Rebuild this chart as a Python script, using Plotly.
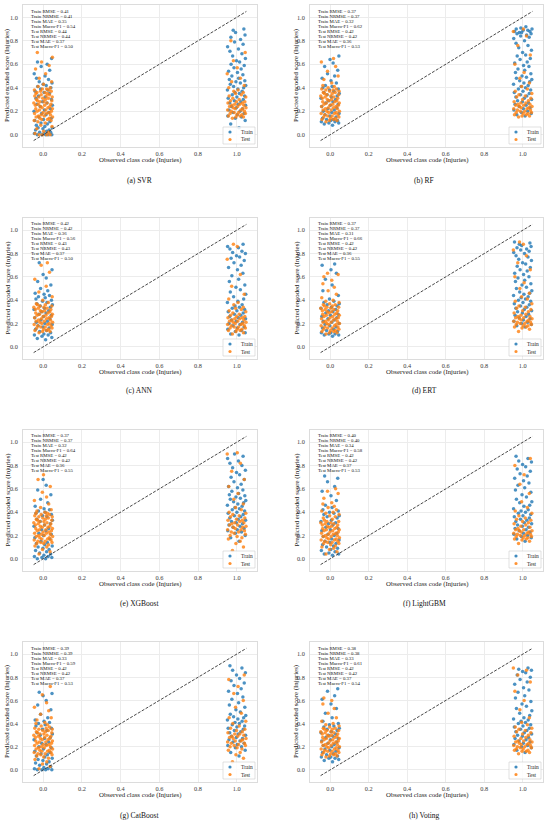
import plotly.graph_objects as go

# %% values
MODELS = ["SVR", "RF", "ANN", "ERT", "XGBoost", "LightGBM", "CatBoost", "Voting"]
LETTERS = ["a", "b", "c", "d", "e", "f", "g", "h"]

TRAIN_RMSE = [0.41, 0.37, 0.42, 0.37, 0.37, 0.40, 0.39, 0.38]
TRAIN_NRMSE = [0.41, 0.37, 0.42, 0.37, 0.37, 0.40, 0.39, 0.38]
TRAIN_MAE = [0.35, 0.32, 0.36, 0.31, 0.32, 0.34, 0.33, 0.33]
TRAIN_F1 = [0.54, 0.62, 0.56, 0.66, 0.64, 0.58, 0.59, 0.61]
TEST_RMSE = [0.44, 0.42, 0.43, 0.42, 0.42, 0.42, 0.42, 0.42]
TEST_NRMSE = [0.44, 0.42, 0.43, 0.42, 0.42, 0.42, 0.42, 0.42]
TEST_MAE = [0.37, 0.36, 0.37, 0.36, 0.36, 0.37, 0.37, 0.37]
TEST_F1 = [0.50, 0.53, 0.50, 0.55, 0.55, 0.53, 0.53, 0.54]

CLASS_CODES = [0, 1]
DIAG = [-0.05, 1.05]
TICKS = [0.0, 0.2, 0.4, 0.6, 0.8, 1.0]

# horizontal jitter applied around each class code
JIT_TRAIN = [
    0.012, -0.031, 0.044, -0.007, 0.025, -0.046, 0.003, 0.038, -0.019, 0.017,
    -0.040, 0.030, -0.002, -0.027, 0.046, 0.008, -0.036, 0.021, -0.012, 0.034,
    -0.044, 0.001, 0.041, -0.023, 0.014, -0.009, 0.028, -0.048, 0.006, 0.036,
    -0.016, 0.047, -0.033, 0.019, -0.004, 0.042, -0.038, 0.010, -0.025, 0.032,
    0.004, -0.042, 0.023, -0.014, 0.039, -0.029, 0.015, -0.001, 0.045, -0.021,
    0.027, -0.035, 0.009, -0.047, 0.033, -0.011, 0.020, -0.030, 0.043, -0.006,
    -0.018, 0.037, -0.043, 0.002, 0.026, -0.034, 0.048, -0.010, 0.016, -0.039,
    0.031, -0.003, -0.024, 0.040, 0.007, -0.045, 0.022, -0.015, 0.035, -0.028,
]
JIT_TEST = [
    -0.022, 0.035, -0.004, 0.018, -0.043, 0.027, 0.002, -0.034, 0.045, -0.013,
    0.010, -0.028, 0.040, -0.047, 0.022, -0.008, 0.031, -0.018, 0.048, -0.037,
    0.005, -0.025, 0.037, -0.010, 0.016, -0.045, 0.029, -0.001, 0.042, -0.032,
    0.013, -0.020, 0.047, -0.039, 0.024, -0.006, 0.034, -0.015, 0.007, -0.041,
    0.039, -0.026, 0.019, -0.049, 0.003, -0.017, 0.044, -0.030, 0.011, -0.036,
    0.026, -0.003, 0.046, -0.023, 0.015, -0.044, 0.032, -0.011, 0.021, -0.038,
    0.008, -0.033, 0.041, -0.014, 0.028, -0.046, 0.017, -0.005, 0.036, -0.027,
    0.001, 0.043, -0.021, 0.012, -0.040, 0.030, -0.009, 0.047, -0.031, 0.020,
]

# predicted scores, class 0 and class 1, train and test
SVR_TRAIN_0 = [0.00, 0.00, 0.00, 0.00, 0.00, 0.01, 0.01, 0.02, 0.02, 0.03, 0.04, 0.04, 0.05, 0.06, 0.06, 0.07,
               0.08, 0.09, 0.10, 0.11, 0.12, 0.13, 0.14, 0.15, 0.17, 0.18, 0.19, 0.20, 0.21, 0.22, 0.24, 0.25,
               0.26, 0.27, 0.28, 0.30, 0.31, 0.32, 0.33, 0.35, 0.36, 0.37, 0.38, 0.39, 0.40, 0.41, 0.42, 0.43,
               0.44, 0.45, 0.47, 0.48, 0.50, 0.52, 0.55, 0.58, 0.60, 0.62, 0.65]
SVR_TEST_0 = [0.00, 0.00, 0.00, 0.00, 0.01, 0.02, 0.03, 0.05, 0.07, 0.08, 0.10, 0.11, 0.12, 0.12, 0.13, 0.13,
              0.14, 0.14, 0.15, 0.15, 0.16, 0.16, 0.17, 0.17, 0.18, 0.18, 0.19, 0.19, 0.20, 0.20, 0.21, 0.21,
              0.22, 0.22, 0.23, 0.23, 0.24, 0.24, 0.25, 0.25, 0.26, 0.26, 0.27, 0.27, 0.28, 0.28, 0.29, 0.29,
              0.30, 0.30, 0.31, 0.31, 0.32, 0.32, 0.33, 0.33, 0.34, 0.34, 0.35, 0.35, 0.36, 0.36, 0.37, 0.37,
              0.38, 0.38, 0.39, 0.39, 0.40, 0.41, 0.43, 0.45, 0.48, 0.52, 0.56, 0.59, 0.62, 0.66, 0.70]
SVR_TRAIN_1 = [0.06, 0.09, 0.12, 0.14, 0.15, 0.16, 0.17, 0.18, 0.19, 0.20, 0.21, 0.22, 0.23, 0.24, 0.25, 0.26,
               0.27, 0.28, 0.29, 0.30, 0.31, 0.32, 0.33, 0.34, 0.35, 0.36, 0.37, 0.38, 0.39, 0.40, 0.41, 0.42,
               0.43, 0.44, 0.45, 0.46, 0.47, 0.48, 0.50, 0.51, 0.53, 0.54, 0.56, 0.57, 0.59, 0.60, 0.62, 0.63,
               0.65, 0.67, 0.69, 0.71, 0.73, 0.75, 0.77, 0.79, 0.81, 0.83, 0.85, 0.87, 0.89, 0.90]
SVR_TEST_1 = [0.14, 0.15, 0.15, 0.16, 0.16, 0.17, 0.17, 0.18, 0.18, 0.19, 0.19, 0.20, 0.20, 0.21, 0.21, 0.22,
              0.22, 0.23, 0.23, 0.24, 0.24, 0.25, 0.25, 0.26, 0.26, 0.27, 0.27, 0.28, 0.28, 0.29, 0.30, 0.31,
              0.32, 0.33, 0.34, 0.35, 0.36, 0.37, 0.38, 0.40, 0.42, 0.45, 0.48, 0.52, 0.57, 0.63, 0.70, 0.80]

RF_TRAIN_0 = [0.08, 0.09, 0.10, 0.10, 0.11, 0.11, 0.12, 0.12, 0.13, 0.13, 0.14, 0.15, 0.16, 0.17, 0.18, 0.19,
              0.20, 0.21, 0.22, 0.23, 0.24, 0.25, 0.26, 0.27, 0.28, 0.29, 0.30, 0.31, 0.32, 0.33, 0.34, 0.35,
              0.36, 0.37, 0.38, 0.39, 0.40, 0.41, 0.42, 0.44, 0.46, 0.48, 0.50, 0.52, 0.55, 0.58, 0.61, 0.64,
              0.67]
RF_TEST_0 = [0.11, 0.12, 0.12, 0.13, 0.13, 0.14, 0.14, 0.15, 0.15, 0.16, 0.16, 0.17, 0.17, 0.18, 0.18, 0.19,
             0.19, 0.20, 0.20, 0.21, 0.21, 0.22, 0.22, 0.23, 0.23, 0.24, 0.24, 0.25, 0.25, 0.26, 0.26, 0.27,
             0.27, 0.28, 0.28, 0.29, 0.29, 0.30, 0.30, 0.31, 0.31, 0.32, 0.32, 0.33, 0.33, 0.34, 0.34, 0.35,
             0.35, 0.36, 0.36, 0.37, 0.37, 0.38, 0.38, 0.39, 0.39, 0.40, 0.41, 0.42, 0.44, 0.47, 0.50, 0.54,
             0.58, 0.62, 0.65]
RF_TRAIN_1 = [0.16, 0.17, 0.18, 0.19, 0.20, 0.21, 0.22, 0.23, 0.24, 0.25, 0.26, 0.27, 0.28, 0.29, 0.30, 0.31,
              0.32, 0.33, 0.34, 0.35, 0.36, 0.37, 0.38, 0.39, 0.40, 0.41, 0.42, 0.43, 0.44, 0.45, 0.46, 0.47,
              0.48, 0.49, 0.50, 0.52, 0.53, 0.55, 0.56, 0.58, 0.59, 0.61, 0.62, 0.64, 0.65, 0.67, 0.68, 0.70,
              0.72, 0.74, 0.76, 0.78, 0.80, 0.82, 0.83, 0.84, 0.85, 0.86, 0.86, 0.87, 0.87, 0.88, 0.88, 0.89,
              0.89, 0.90, 0.90, 0.91, 0.92]
RF_TEST_1 = [0.15, 0.16, 0.16, 0.17, 0.17, 0.18, 0.18, 0.19, 0.19, 0.20, 0.20, 0.21, 0.21, 0.22, 0.22, 0.23,
             0.23, 0.24, 0.24, 0.25, 0.25, 0.26, 0.26, 0.27, 0.27, 0.28, 0.29, 0.30, 0.31, 0.32, 0.33, 0.34,
             0.35, 0.37, 0.39, 0.41, 0.44, 0.48, 0.53, 0.60, 0.68, 0.76, 0.84, 0.88, 0.90]

ANN_TRAIN_0 = [0.06, 0.07, 0.08, 0.09, 0.10, 0.10, 0.11, 0.12, 0.13, 0.14, 0.15, 0.16, 0.17, 0.18, 0.19, 0.20,
               0.21, 0.22, 0.23, 0.24, 0.25, 0.26, 0.27, 0.28, 0.29, 0.30, 0.31, 0.32, 0.33, 0.34, 0.35, 0.36,
               0.37, 0.38, 0.39, 0.40, 0.41, 0.42, 0.43, 0.44, 0.45, 0.46, 0.48, 0.50, 0.53, 0.56, 0.59, 0.62,
               0.66, 0.72]
ANN_TEST_0 = [0.12, 0.13, 0.13, 0.14, 0.14, 0.15, 0.15, 0.16, 0.16, 0.17, 0.17, 0.18, 0.18, 0.19, 0.19, 0.20,
              0.20, 0.21, 0.21, 0.22, 0.22, 0.23, 0.23, 0.24, 0.24, 0.25, 0.25, 0.26, 0.26, 0.27, 0.27, 0.28,
              0.28, 0.29, 0.29, 0.30, 0.30, 0.31, 0.31, 0.32, 0.32, 0.33, 0.33, 0.34, 0.34, 0.35, 0.35, 0.36,
              0.36, 0.37, 0.38, 0.40, 0.43, 0.47, 0.52, 0.58, 0.64, 0.70, 0.72]
ANN_TRAIN_1 = [0.10, 0.11, 0.12, 0.13, 0.14, 0.15, 0.16, 0.17, 0.18, 0.19, 0.20, 0.21, 0.22, 0.23, 0.24, 0.25,
               0.26, 0.27, 0.28, 0.29, 0.30, 0.31, 0.32, 0.33, 0.34, 0.35, 0.36, 0.38, 0.39, 0.41, 0.43, 0.45,
               0.47, 0.49, 0.51, 0.53, 0.56, 0.58, 0.61, 0.63, 0.66, 0.68, 0.70, 0.72, 0.74, 0.76, 0.77, 0.78,
               0.80, 0.81, 0.82, 0.84, 0.85, 0.86, 0.88]
ANN_TEST_1 = [0.11, 0.12, 0.13, 0.14, 0.14, 0.15, 0.15, 0.16, 0.16, 0.17, 0.17, 0.18, 0.18, 0.19, 0.19, 0.20,
              0.20, 0.21, 0.21, 0.22, 0.22, 0.23, 0.23, 0.24, 0.24, 0.25, 0.25, 0.26, 0.26, 0.27, 0.28, 0.29,
              0.30, 0.31, 0.32, 0.33, 0.34, 0.36, 0.38, 0.41, 0.45, 0.52, 0.62, 0.75, 0.86, 0.88]

ERT_TRAIN_0 = [0.09, 0.10, 0.10, 0.11, 0.11, 0.12, 0.12, 0.13, 0.14, 0.15, 0.16, 0.17, 0.18, 0.19, 0.20, 0.21,
               0.22, 0.23, 0.24, 0.25, 0.26, 0.27, 0.28, 0.29, 0.30, 0.31, 0.32, 0.33, 0.34, 0.35, 0.36, 0.37,
               0.38, 0.39, 0.41, 0.44, 0.48, 0.53, 0.58, 0.63, 0.66, 0.70, 0.71]
ERT_TEST_0 = [0.11, 0.12, 0.12, 0.13, 0.13, 0.14, 0.14, 0.15, 0.15, 0.16, 0.16, 0.17, 0.17, 0.18, 0.18, 0.19,
              0.19, 0.20, 0.20, 0.21, 0.21, 0.22, 0.22, 0.23, 0.23, 0.24, 0.24, 0.25, 0.25, 0.26, 0.26, 0.27,
              0.27, 0.28, 0.28, 0.29, 0.29, 0.30, 0.30, 0.31, 0.31, 0.32, 0.32, 0.33, 0.33, 0.34, 0.34, 0.35,
              0.35, 0.36, 0.36, 0.37, 0.38, 0.39, 0.40, 0.42, 0.45, 0.48, 0.51, 0.54, 0.57, 0.60, 0.62, 0.63]
ERT_TRAIN_1 = [0.17, 0.18, 0.19, 0.20, 0.21, 0.22, 0.23, 0.24, 0.25, 0.26, 0.27, 0.28, 0.29, 0.30, 0.31, 0.32,
               0.33, 0.34, 0.35, 0.36, 0.37, 0.38, 0.39, 0.40, 0.41, 0.42, 0.43, 0.44, 0.45, 0.46, 0.47, 0.48,
               0.50, 0.51, 0.53, 0.54, 0.56, 0.57, 0.59, 0.60, 0.62, 0.63, 0.65, 0.66, 0.68, 0.69, 0.71, 0.72,
               0.74, 0.75, 0.77, 0.78, 0.80, 0.81, 0.82, 0.83, 0.84, 0.85, 0.86, 0.87, 0.88, 0.89, 0.90]
ERT_TEST_1 = [0.13, 0.15, 0.16, 0.17, 0.17, 0.18, 0.18, 0.19, 0.19, 0.20, 0.20, 0.21, 0.21, 0.22, 0.22, 0.23,
              0.23, 0.24, 0.24, 0.25, 0.25, 0.26, 0.26, 0.27, 0.28, 0.29, 0.30, 0.31, 0.32, 0.33, 0.34, 0.35,
              0.37, 0.39, 0.41, 0.43, 0.46, 0.50, 0.55, 0.60, 0.66, 0.72, 0.78, 0.83, 0.88, 0.90]

XGB_TRAIN_0 = [0.00, 0.00, 0.01, 0.01, 0.02, 0.02, 0.03, 0.04, 0.05, 0.06, 0.07, 0.08, 0.09, 0.10, 0.11, 0.12,
               0.13, 0.14, 0.15, 0.17, 0.18, 0.20, 0.21, 0.22, 0.24, 0.25, 0.26, 0.28, 0.29, 0.30, 0.32, 0.33,
               0.34, 0.36, 0.37, 0.38, 0.39, 0.40, 0.41, 0.42, 0.43, 0.45, 0.48, 0.51, 0.55, 0.59, 0.63, 0.68]
XGB_TEST_0 = [0.04, 0.06, 0.08, 0.10, 0.11, 0.12, 0.13, 0.13, 0.14, 0.14, 0.15, 0.15, 0.16, 0.16, 0.17, 0.17,
              0.18, 0.18, 0.19, 0.19, 0.20, 0.20, 0.21, 0.21, 0.22, 0.22, 0.23, 0.23, 0.24, 0.24, 0.25, 0.25,
              0.26, 0.26, 0.27, 0.27, 0.28, 0.28, 0.29, 0.29, 0.30, 0.30, 0.31, 0.31, 0.32, 0.32, 0.33, 0.33,
              0.34, 0.34, 0.35, 0.35, 0.36, 0.36, 0.37, 0.37, 0.38, 0.38, 0.39, 0.39, 0.40, 0.41, 0.42, 0.44,
              0.47, 0.50, 0.53, 0.57, 0.62, 0.68, 0.72]
XGB_TRAIN_1 = [0.15, 0.18, 0.20, 0.22, 0.23, 0.24, 0.25, 0.26, 0.27, 0.28, 0.29, 0.30, 0.31, 0.32, 0.33, 0.34,
               0.35, 0.36, 0.37, 0.38, 0.39, 0.40, 0.41, 0.42, 0.43, 0.44, 0.45, 0.46, 0.47, 0.48, 0.49, 0.50,
               0.51, 0.52, 0.53, 0.54, 0.55, 0.56, 0.58, 0.59, 0.61, 0.62, 0.64, 0.66, 0.68, 0.70, 0.72, 0.74,
               0.76, 0.78, 0.80, 0.82, 0.84, 0.86, 0.88, 0.90]
XGB_TEST_1 = [0.07, 0.10, 0.13, 0.15, 0.17, 0.18, 0.19, 0.20, 0.21, 0.22, 0.23, 0.23, 0.24, 0.25, 0.25, 0.26,
              0.27, 0.27, 0.28, 0.29, 0.29, 0.30, 0.31, 0.31, 0.32, 0.33, 0.33, 0.34, 0.35, 0.36, 0.37, 0.38,
              0.39, 0.40, 0.42, 0.44, 0.47, 0.51, 0.56, 0.62, 0.68, 0.75, 0.82, 0.90, 0.91]

LGBM_TRAIN_0 = [0.03, 0.04, 0.04, 0.05, 0.06, 0.07, 0.08, 0.09, 0.10, 0.11, 0.12, 0.13, 0.14, 0.15, 0.16, 0.17,
                0.19, 0.20, 0.21, 0.22, 0.24, 0.25, 0.26, 0.27, 0.29, 0.30, 0.31, 0.32, 0.33, 0.35, 0.36, 0.37,
                0.38, 0.39, 0.40, 0.41, 0.42, 0.44, 0.46, 0.50, 0.54, 0.58, 0.62, 0.66, 0.69, 0.71]
LGBM_TEST_0 = [0.04, 0.06, 0.08, 0.09, 0.10, 0.11, 0.12, 0.13, 0.13, 0.14, 0.14, 0.15, 0.15, 0.16, 0.16, 0.17,
               0.17, 0.18, 0.18, 0.19, 0.19, 0.20, 0.20, 0.21, 0.21, 0.22, 0.22, 0.23, 0.23, 0.24, 0.24, 0.25,
               0.25, 0.26, 0.26, 0.27, 0.27, 0.28, 0.28, 0.29, 0.29, 0.30, 0.30, 0.31, 0.31, 0.32, 0.32, 0.33,
               0.34, 0.35, 0.36, 0.37, 0.38, 0.39, 0.40, 0.41, 0.42, 0.44, 0.45, 0.47, 0.48, 0.52, 0.56, 0.58,
               0.60]
LGBM_TRAIN_1 = [0.15, 0.17, 0.18, 0.19, 0.20, 0.21, 0.22, 0.23, 0.24, 0.25, 0.26, 0.27, 0.28, 0.29, 0.30, 0.31,
                0.32, 0.33, 0.34, 0.35, 0.36, 0.37, 0.38, 0.39, 0.40, 0.41, 0.42, 0.43, 0.45, 0.46, 0.48, 0.49,
                0.51, 0.53, 0.55, 0.57, 0.59, 0.61, 0.63, 0.65, 0.67, 0.69, 0.71, 0.73, 0.75, 0.77, 0.79, 0.81,
                0.83, 0.84, 0.86, 0.88]
LGBM_TEST_1 = [0.13, 0.15, 0.16, 0.17, 0.17, 0.18, 0.18, 0.19, 0.19, 0.20, 0.20, 0.21, 0.21, 0.22, 0.22, 0.23,
               0.23, 0.24, 0.24, 0.25, 0.25, 0.26, 0.27, 0.28, 0.29, 0.30, 0.31, 0.32, 0.33, 0.34, 0.35, 0.37,
               0.39, 0.41, 0.44, 0.49, 0.56, 0.64, 0.72, 0.80, 0.86]

CAT_TRAIN_0 = [0.00, 0.00, 0.00, 0.00, 0.01, 0.01, 0.02, 0.03, 0.04, 0.05, 0.06, 0.07, 0.08, 0.09, 0.10, 0.11,
               0.12, 0.13, 0.14, 0.15, 0.16, 0.18, 0.19, 0.20, 0.22, 0.23, 0.24, 0.26, 0.27, 0.28, 0.30, 0.31,
               0.32, 0.34, 0.35, 0.36, 0.38, 0.39, 0.40, 0.41, 0.42, 0.43, 0.45, 0.48, 0.52, 0.56, 0.60, 0.64,
               0.66, 0.67]
CAT_TEST_0 = [0.01, 0.03, 0.05, 0.07, 0.09, 0.10, 0.11, 0.12, 0.13, 0.13, 0.14, 0.14, 0.15, 0.15, 0.16, 0.16,
              0.17, 0.17, 0.18, 0.18, 0.19, 0.19, 0.20, 0.20, 0.21, 0.21, 0.22, 0.22, 0.23, 0.23, 0.24, 0.24,
              0.25, 0.25, 0.26, 0.26, 0.27, 0.27, 0.28, 0.28, 0.29, 0.29, 0.30, 0.30, 0.31, 0.31, 0.32, 0.32,
              0.33, 0.33, 0.34, 0.34, 0.35, 0.35, 0.36, 0.36, 0.37, 0.38, 0.39, 0.40, 0.41, 0.43, 0.45, 0.48,
              0.51, 0.54, 0.58, 0.65, 0.72]
CAT_TRAIN_1 = [0.12, 0.15, 0.17, 0.19, 0.20, 0.21, 0.22, 0.23, 0.24, 0.25, 0.26, 0.27, 0.28, 0.29, 0.30, 0.31,
               0.32, 0.33, 0.34, 0.35, 0.36, 0.37, 0.38, 0.39, 0.40, 0.41, 0.42, 0.43, 0.44, 0.45, 0.46, 0.47,
               0.48, 0.50, 0.52, 0.54, 0.56, 0.58, 0.61, 0.63, 0.66, 0.68, 0.70, 0.73, 0.75, 0.77, 0.79, 0.82,
               0.84, 0.86, 0.88, 0.90]
CAT_TEST_1 = [0.07, 0.10, 0.13, 0.15, 0.17, 0.18, 0.19, 0.20, 0.21, 0.21, 0.22, 0.23, 0.23, 0.24, 0.25, 0.25,
              0.26, 0.27, 0.27, 0.28, 0.29, 0.29, 0.30, 0.31, 0.31, 0.32, 0.33, 0.34, 0.35, 0.36, 0.38, 0.40,
              0.42, 0.45, 0.49, 0.54, 0.60, 0.66, 0.72, 0.78, 0.82]

VOT_TRAIN_0 = [0.07, 0.08, 0.09, 0.10, 0.10, 0.11, 0.11, 0.12, 0.13, 0.14, 0.15, 0.16, 0.17, 0.18, 0.19, 0.20,
               0.21, 0.22, 0.23, 0.24, 0.25, 0.26, 0.27, 0.28, 0.29, 0.30, 0.31, 0.32, 0.33, 0.34, 0.35, 0.36,
               0.37, 0.38, 0.39, 0.40, 0.42, 0.45, 0.49, 0.53, 0.57, 0.61, 0.64, 0.68, 0.70]
VOT_TEST_0 = [0.11, 0.12, 0.12, 0.13, 0.13, 0.14, 0.14, 0.15, 0.15, 0.16, 0.16, 0.17, 0.17, 0.18, 0.18, 0.19,
              0.19, 0.20, 0.20, 0.21, 0.21, 0.22, 0.22, 0.23, 0.23, 0.24, 0.24, 0.25, 0.25, 0.26, 0.26, 0.27,
              0.27, 0.28, 0.28, 0.29, 0.29, 0.30, 0.30, 0.31, 0.31, 0.32, 0.32, 0.33, 0.33, 0.34, 0.34, 0.35,
              0.35, 0.36, 0.36, 0.37, 0.38, 0.39, 0.40, 0.42, 0.45, 0.49, 0.53, 0.57, 0.60, 0.62]
VOT_TRAIN_1 = [0.15, 0.17, 0.19, 0.20, 0.21, 0.22, 0.23, 0.24, 0.25, 0.26, 0.27, 0.28, 0.29, 0.30, 0.31, 0.32,
               0.33, 0.34, 0.35, 0.36, 0.37, 0.38, 0.39, 0.40, 0.41, 0.42, 0.43, 0.44, 0.45, 0.47, 0.49, 0.51,
               0.53, 0.55, 0.57, 0.59, 0.62, 0.64, 0.67, 0.69, 0.71, 0.74, 0.76, 0.78, 0.80, 0.82, 0.84, 0.85,
               0.86, 0.87, 0.88]
VOT_TEST_1 = [0.14, 0.15, 0.16, 0.16, 0.17, 0.17, 0.18, 0.18, 0.19, 0.19, 0.20, 0.20, 0.21, 0.21, 0.22, 0.22,
              0.23, 0.23, 0.24, 0.24, 0.25, 0.25, 0.26, 0.27, 0.28, 0.29, 0.30, 0.31, 0.32, 0.33, 0.34, 0.35,
              0.36, 0.37, 0.39, 0.41, 0.45, 0.52, 0.60, 0.68, 0.76, 0.82, 0.86, 0.88]

SCORES = [
    (SVR_TRAIN_0, SVR_TEST_0, SVR_TRAIN_1, SVR_TEST_1),
    (RF_TRAIN_0, RF_TEST_0, RF_TRAIN_1, RF_TEST_1),
    (ANN_TRAIN_0, ANN_TEST_0, ANN_TRAIN_1, ANN_TEST_1),
    (ERT_TRAIN_0, ERT_TEST_0, ERT_TRAIN_1, ERT_TEST_1),
    (XGB_TRAIN_0, XGB_TEST_0, XGB_TRAIN_1, XGB_TEST_1),
    (LGBM_TRAIN_0, LGBM_TEST_0, LGBM_TRAIN_1, LGBM_TEST_1),
    (CAT_TRAIN_0, CAT_TEST_0, CAT_TRAIN_1, CAT_TEST_1),
    (VOT_TRAIN_0, VOT_TEST_0, VOT_TRAIN_1, VOT_TEST_1),
]

# %% layout constants (pixels of the 550x823 page)
W, H = 550, 823
FONT = "Liberation Serif"
BLUE = "#1f77b4"
ORANGE = "#ff7f0e"
COL_L = [23, 310]
COL_R = [257, 543]
ROW_T = [5, 218, 430, 642]
ROW_B = [147, 359, 571, 782]
XTITLE_Y = [160, 372, 584, 795]
CAPTION_Y = [180, 390, 603, 815]
YTITLE_X = [7, 296]
CAPTION_X = [140, 424]


def jittered(code, jit, ys):
    return [code + j for j in jit[: len(ys)]]


fig = go.Figure()
annotations = []
shapes = []

for i, name in enumerate(MODELS):
    n = i + 1
    row, col = divmod(i, 2)
    sfx = "" if n == 1 else str(n)
    xa, ya = "x" + sfx, "y" + sfx
    tr0, te0, tr1, te1 = SCORES[i]

    fig.add_trace(go.Scatter(
        x=jittered(CLASS_CODES[0], JIT_TRAIN, tr0) + jittered(CLASS_CODES[1], JIT_TRAIN, tr1),
        y=tr0 + tr1, mode="markers", name="Train", showlegend=False,
        marker=dict(color=BLUE, size=3.5, opacity=0.8),
        xaxis=xa, yaxis=ya,
    ))
    fig.add_trace(go.Scatter(
        x=jittered(CLASS_CODES[0], JIT_TEST, te0) + jittered(CLASS_CODES[1], JIT_TEST, te1),
        y=te0 + te1, mode="markers", name="Test", showlegend=False,
        marker=dict(color=ORANGE, size=3.5, opacity=0.8),
        xaxis=xa, yaxis=ya,
    ))
    fig.add_trace(go.Scatter(
        x=DIAG, y=DIAG, mode="lines", showlegend=False,
        line=dict(color="#333333", width=0.9, dash="3px,1.5px"),
        xaxis=xa, yaxis=ya,
    ))

    axis_common = dict(
        range=[-0.105, 1.105], tickvals=TICKS, tickformat=".1f",
        showgrid=True, gridcolor="#ececec", gridwidth=0.6, zeroline=False,
        showline=True, mirror=True, linecolor="#dcdcdc", linewidth=0.8,
        ticks="", tickfont=dict(family=FONT, size=6.3, color="#3a3a3a"),
    )
    fig.update_layout({
        "xaxis" + sfx: dict(axis_common, domain=[COL_L[col] / W, COL_R[col] / W], anchor=ya,
                            ticklabelstandoff=1),
        "yaxis" + sfx: dict(axis_common, domain=[1 - ROW_B[row] / H, 1 - ROW_T[row] / H], anchor=xa,
                            ticklabelstandoff=3),
    })

    pw = COL_R[col] - COL_L[col]
    ph = ROW_B[row] - ROW_T[row]
    dx, dy = xa + " domain", ya + " domain"

    # metrics block, top-left inside the axes
    lines = [
        f"Train RMSE = {TRAIN_RMSE[i]:.2f}",
        f"Train NRMSE = {TRAIN_NRMSE[i]:.2f}",
        f"Train MAE = {TRAIN_MAE[i]:.2f}",
        f"Train Macro-F1 = {TRAIN_F1[i]:.2f}",
        f"Test RMSE = {TEST_RMSE[i]:.2f}",
        f"Test NRMSE = {TEST_NRMSE[i]:.2f}",
        f"Test MAE = {TEST_MAE[i]:.2f}",
        f"Test Macro-F1 = {TEST_F1[i]:.2f}",
    ]
    for k, txt in enumerate(lines):
        annotations.append(dict(
            text=txt, xref=dx, yref=dy, x=6 / pw, y=1 - (6 + 5 * k) / ph,
            xanchor="left", yanchor="middle", showarrow=False,
            font=dict(family=FONT, size=4.8, color="#111111"),
        ))

    # compact legend, lower right
    shapes.append(dict(
        type="rect", xref=dx, yref=dy, x0=1 - 34 / pw, x1=1 - 2 / pw, y0=3 / ph, y1=20 / ph,
        line=dict(color="#cccccc", width=0.6), fillcolor="rgba(255,255,255,0.85)", layer="above",
    ))
    for k, (label, color) in enumerate([("Train", BLUE), ("Test", ORANGE)]):
        ly = (15 - 7.5 * k) / ph
        shapes.append(dict(
            type="circle", xref=dx, yref=dy, xsizemode="pixel", ysizemode="pixel",
            xanchor=1 - 27 / pw, yanchor=ly, x0=-1.6, x1=1.6, y0=-1.6, y1=1.6,
            fillcolor=color, opacity=0.85, line=dict(width=0), layer="above",
        ))
        annotations.append(dict(
            text=label, xref=dx, yref=dy, x=1 - 18 / pw, y=ly,
            xanchor="left", yanchor="middle", showarrow=False,
            font=dict(family=FONT, size=5.5, color="#222222"),
        ))

    annotations.append(dict(
        text="Observed class code (Injuries)", xref="paper", yref="paper",
        x=(COL_L[col] + COL_R[col]) / 2 / W, y=1 - XTITLE_Y[row] / H,
        xanchor="center", yanchor="middle", showarrow=False,
        font=dict(family=FONT, size=6.8, color="#222222"),
    ))
    annotations.append(dict(
        text="Predicted encoded score (Injuries)", xref="paper", yref="paper",
        x=YTITLE_X[col] / W, y=1 - (ROW_T[row] + ROW_B[row]) / 2 / H, textangle=-90,
        xanchor="center", yanchor="middle", showarrow=False,
        font=dict(family=FONT, size=6.8, color="#222222"),
    ))
    annotations.append(dict(
        text=f"({LETTERS[i]}) {name}", xref="paper", yref="paper",
        x=CAPTION_X[col] / W, y=1 - CAPTION_Y[row] / H,
        xanchor="center", yanchor="middle", showarrow=False,
        font=dict(family=FONT, size=7.5, color="#111111"),
    ))

fig.update_layout(
    width=W, height=H, margin=dict(l=0, r=0, t=0, b=0),
    paper_bgcolor="white", plot_bgcolor="white", showlegend=False,
    annotations=annotations, shapes=shapes,
)

fig.write_html(
    "out.html",
    config={"displayModeBar": False},
    post_script="document.body.style.margin = '0px';",
)
